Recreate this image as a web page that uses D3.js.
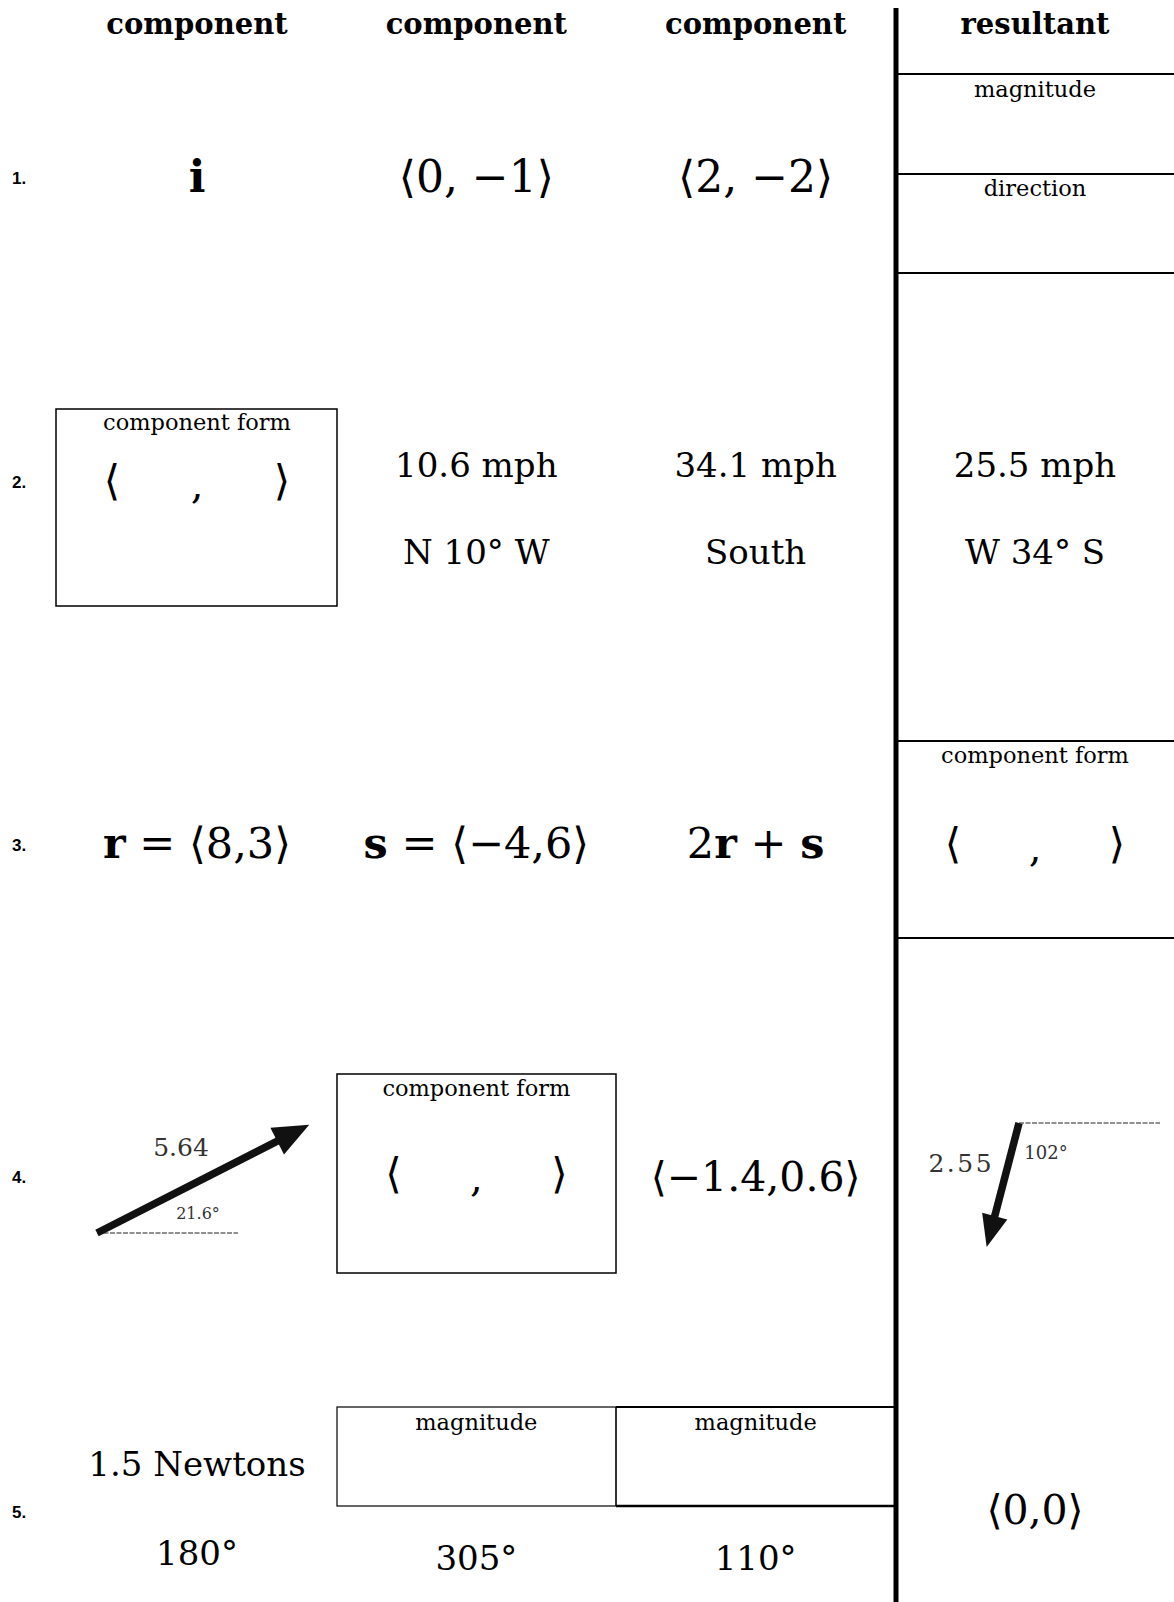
<!DOCTYPE html>
<html><head><meta charset="utf-8">
<script src="https://cdn.jsdelivr.net/npm/d3@7"></script>
<style>body{margin:0;background:#fff}</style>
</head><body>
<script>
// ---- data ----
const headers = ["component", "component", "component", "resultant"];
const rowLabels = ["1.", "2.", "3.", "4.", "5."];
const row1Values = ["i", "⟨0, −1⟩", "⟨2, −2⟩"];
const row1ResultLabels = ["magnitude", "direction"];
const row2Magnitudes = ["10.6 mph", "34.1 mph", "25.5 mph"];
const row2Directions = ["N 10° W", "South", "W 34° S"];
const row3Given = [["r", " = ⟨8,3⟩"], ["s", " = ⟨−4,6⟩"]];
const row3Expr = ["2", "r", " + ", "s"];
const arrowMagnitudes = [5.64, 2.55];
const arrowAngles = [21.6, 102];
const row4Given = "⟨−1.4,0.6⟩";
const row5Magnitudes = ["1.5 Newtons"];
const row5Angles = [180, 305, 110];
const row5Result = "⟨0,0⟩";
const blankLabel = "component form";
const magLabel = "magnitude";

// ---- layout ----
const W = 1174, H = 1602;
const svg = d3.select("body").append("svg").attr("width", W).attr("height", H);
const x = d3.scalePoint().domain(d3.range(4)).range([197, 1035]);
const rowY = d3.scaleOrdinal().domain(d3.range(5)).range([176, 480, 843, 1175, 1510]);
const divX = 896;
const serif = "'DejaVu Serif', serif";

function txt(xp, yp, s, size, opts = {}) {
  return svg.append("text").attr("x", xp).attr("y", yp)
    .attr("text-anchor", opts.anchor || "middle")
    .attr("dominant-baseline", "central")
    .attr("font-family", opts.family || serif)
    .attr("font-size", size)
    .attr("font-weight", opts.weight || "normal")
    .attr("fill", opts.fill || "#000")
    .text(s);
}
function line(x1, y1, x2, y2, w) {
  svg.append("line").attr("x1", x1).attr("y1", y1).attr("x2", x2).attr("y2", y2)
    .attr("stroke", "#000").attr("stroke-width", w);
}
function box(x1, y1, x2, y2, w) {
  svg.append("rect").attr("x", x1).attr("y", y1).attr("width", x2 - x1).attr("height", y2 - y1)
    .attr("fill", "none").attr("stroke", "#000").attr("stroke-width", w || 1.5);
}
function blankPair(cx, cy, half) {
  txt(cx - half, cy, "⟨", 42);
  txt(cx, cy + 4, ",", 40);
  txt(cx + half, cy, "⟩", 42);
}

// headers
svg.selectAll("text.hdr").data(headers).join("text").attr("class", "hdr")
  .attr("x", (d, i) => x(i)).attr("y", 24).attr("text-anchor", "middle")
  .attr("dominant-baseline", "central").attr("font-family", serif)
  .attr("font-weight", "bold").attr("font-size", 29).text(d => d);

// divider + right-column rules
line(divX, 8, divX, H, 5);
[74, 174, 273, 741, 938].forEach(y => line(divX, y, W, y, 2));

// row labels
svg.selectAll("text.rl").data(rowLabels).join("text").attr("class", "rl")
  .attr("x", 12).attr("y", (d, i) => rowY(i) + 2)
  .attr("dominant-baseline", "central").attr("font-family", "'Liberation Sans', Arial, sans-serif")
  .attr("font-weight", "bold").attr("font-size", 17).text(d => d);

// ---- row 1 ----
row1Values.forEach((v, i) => {
  txt(x(i), rowY(0), v, i === 0 ? 44 : 44, { weight: i === 0 ? "bold" : "normal" });
});
txt(x(3), 89, row1ResultLabels[0], 22.5);
txt(x(3), 188, row1ResultLabels[1], 22.5);

// ---- row 2 ----
box(56, 409, 337, 606);
txt(x(0), 422, blankLabel, 22.5);
blankPair(x(0), rowY(1), 85);
[1, 2, 3].forEach((c, k) => {
  txt(x(c), 465, row2Magnitudes[k], 34);
  txt(x(c), 552, row2Directions[k], 34);
});

// ---- row 3 ----
row3Given.forEach((g, i) => {
  const t = svg.append("text").attr("x", x(i)).attr("y", rowY(2)).attr("text-anchor", "middle")
    .attr("dominant-baseline", "central").attr("font-family", serif).attr("font-size", 43);
  t.append("tspan").attr("font-weight", "bold").text(g[0]);
  t.append("tspan").text(g[1]);
});
{
  const t = svg.append("text").attr("x", x(2)).attr("y", rowY(2)).attr("text-anchor", "middle")
    .attr("dominant-baseline", "central").attr("font-family", serif).attr("font-size", 43);
  row3Expr.forEach(s => t.append("tspan").attr("font-weight", (s === "r" || s === "s") ? "bold" : "normal").text(s));
}
txt(x(3), 755, blankLabel, 22.5);
blankPair(x(3), rowY(2), 82);

// ---- row 4 ----
const len = d3.scalePow().exponent(0.78).domain([0, 6]).range([0, 250]);
const drawnAngles = [27, 104.6];            // sketch angles used in the original drawing
const tails = [[97, 1233], [1019, 1123]];
arrowMagnitudes.forEach((m, i) => {
  const a = drawnAngles[i] * Math.PI / 180;
  const dir = i === 0 ? -1 : 1;               // first points up-right, second down-left
  const L = len(m);
  const [tx, ty] = tails[i];
  const ux = Math.cos(a), uy = dir * Math.sin(a);
  const hx = tx + ux * L, hy = ty + uy * L;
  const hl = i === 0 ? 36 : 32, hw = i === 0 ? 15 : 13;
  const bx = hx - ux * hl, by = hy - uy * hl;
  const px = -uy, py = ux;
  svg.append("line").attr("x1", tx).attr("y1", ty)
    .attr("x2", tx + 141).attr("y2", ty)
    .attr("stroke", "#222").attr("stroke-width", 1.2).attr("stroke-dasharray", "5,1.5");
  svg.append("line").attr("x1", tx).attr("y1", ty).attr("x2", bx + ux * 4).attr("y2", by + uy * 4)
    .attr("stroke", "#111").attr("stroke-width", 7.5);
  svg.append("path").attr("d", d3.line()([[hx, hy], [bx + px * hw, by + py * hw], [bx - px * hw, by - py * hw]]) + "Z")
    .attr("fill", "#111");
});
txt(181, 1147, String(arrowMagnitudes[0]), 25, { fill: "#333" });
txt(198, 1213, arrowAngles[0] + "°", 16, { fill: "#333" });
txt(960, 1163, String(arrowMagnitudes[1]).split("").join("\u200A"), 25, { fill: "#333" });
txt(1046, 1152, arrowAngles[1] + "°", 18, { fill: "#333" });

box(337, 1074, 616, 1273);
txt(x(1), 1088, blankLabel, 22.5);
blankPair(x(1), 1173, 83);
txt(x(2), 1177, row4Given, 41);

// ---- row 5 ----
box(337, 1407, 616, 1506, 1.2);
line(616, 1407, divX, 1407, 2);
line(616, 1506, divX, 1506, 2.5);
line(616, 1407, 616, 1506, 1);
txt(x(1), 1422, magLabel, 22.5);
txt(x(2), 1422, magLabel, 22.5);
txt(x(0), 1464, row5Magnitudes[0], 34);
row5Angles.forEach((a, i) => txt(x(i), i === 0 ? 1553 : 1558, a + "°", 34));
txt(x(3), 1510, row5Result, 41);
</script>
</body></html>
